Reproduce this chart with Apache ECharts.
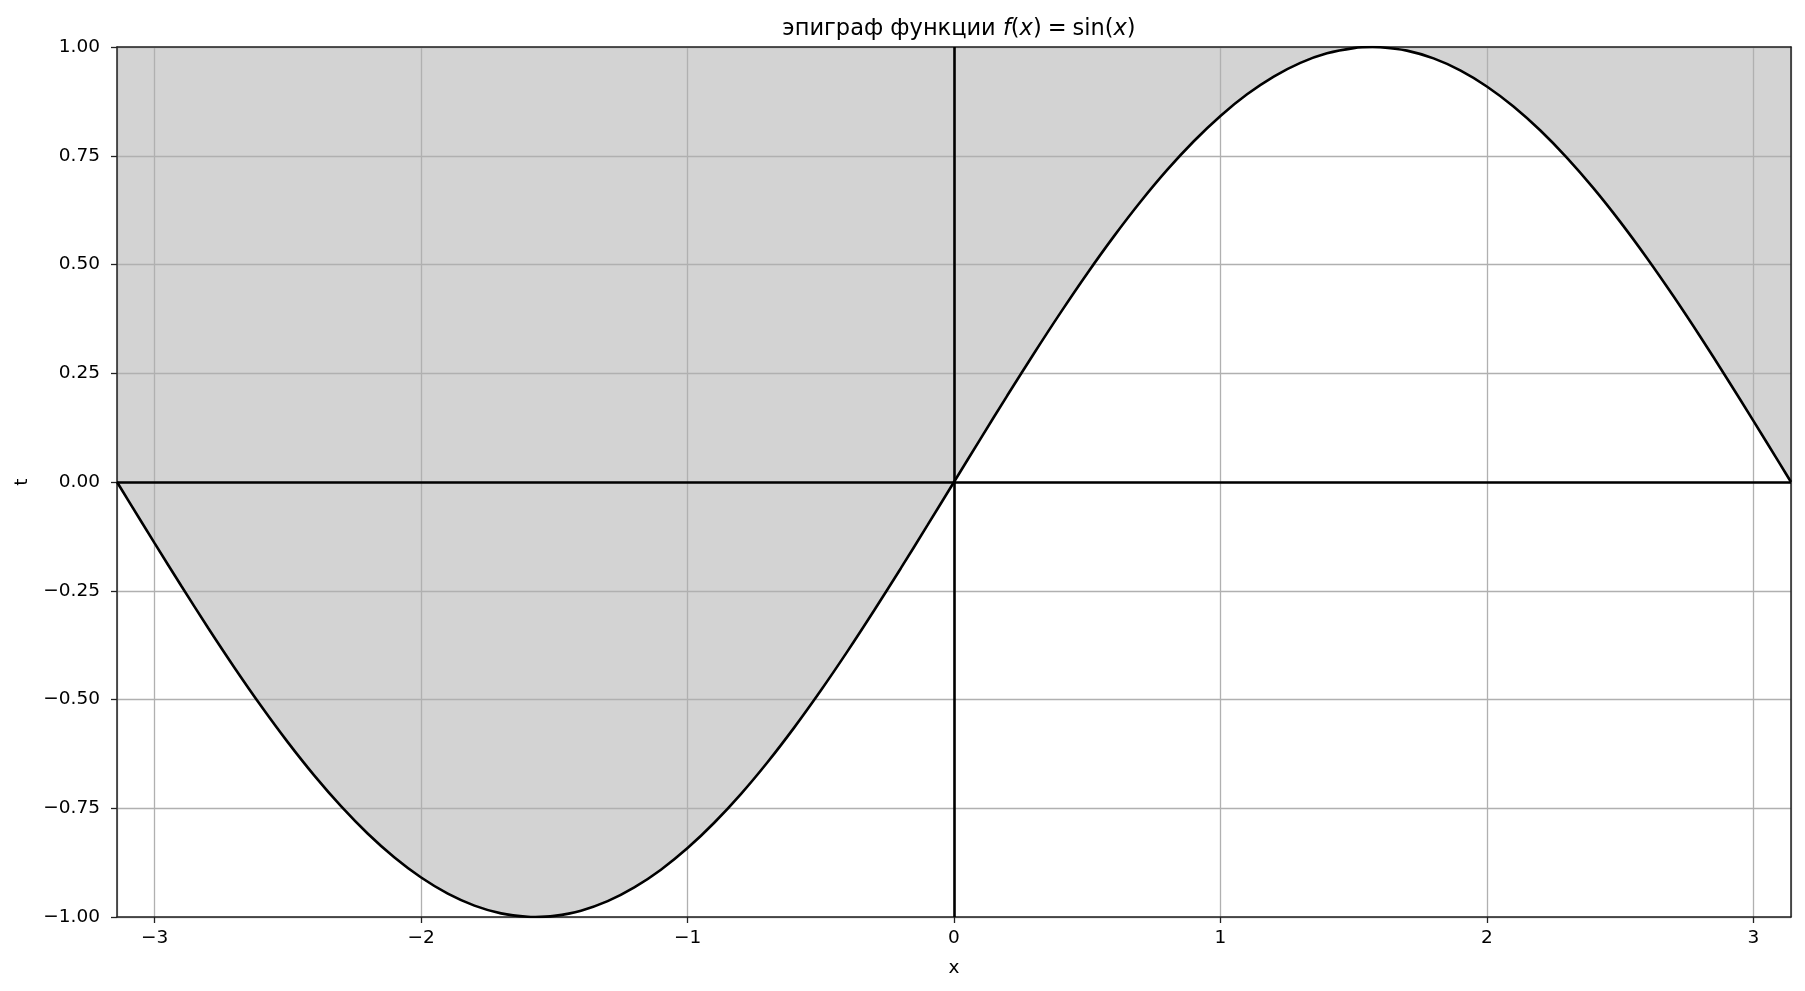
<!DOCTYPE html>
<html>
<head>
<meta charset="utf-8">
<title>эпиграф функции</title>
<script src="https://cdn.jsdelivr.net/npm/echarts@6/dist/echarts.min.js"></script>
<style>
  html, body { margin: 0; padding: 0; background: #fff; }
  #chart { width: 1805px; height: 991px; }
</style>
</head>
<body>
<div id="chart"></div>
<script>
// points of the curve
var xValues = [-3.1416, -3.1, -3.0, -2.9, -2.8, -2.7, -2.6, -2.5, -2.4, -2.3, -2.2, -2.1, -2.0,
    -1.9, -1.8, -1.7, -1.6, -1.5708, -1.5, -1.4, -1.3, -1.2, -1.1, -1.0, -0.9, -0.8, -0.7, -0.6,
    -0.5, -0.4, -0.3, -0.2, -0.1, 0.0, 0.1, 0.2, 0.3, 0.4, 0.5, 0.6, 0.7, 0.8, 0.9, 1.0, 1.1,
    1.2, 1.3, 1.4, 1.5, 1.5708, 1.6, 1.7, 1.8, 1.9, 2.0, 2.1, 2.2, 2.3, 2.4, 2.5, 2.6, 2.7, 2.8,
    2.9, 3.0, 3.1, 3.1416];
var tValues = [0.0, -0.0416, -0.1411, -0.2392, -0.335, -0.4274, -0.5155, -0.5985, -0.6755, -0.7457,
    -0.8085, -0.8632, -0.9093, -0.9463, -0.9738, -0.9917, -0.9996, -1.0, -0.9975, -0.9854, -0.9636,
    -0.932, -0.8912, -0.8415, -0.7833, -0.7174, -0.6442, -0.5646, -0.4794, -0.3894, -0.2955,
    -0.1987, -0.0998, 0.0, 0.0998, 0.1987, 0.2955, 0.3894, 0.4794, 0.5646, 0.6442, 0.7174,
    0.7833, 0.8415, 0.8912, 0.932, 0.9636, 0.9854, 0.9975, 1.0, 0.9996, 0.9917, 0.9738, 0.9463,
    0.9093, 0.8632, 0.8085, 0.7457, 0.6755, 0.5985, 0.5155, 0.4274, 0.335, 0.2392, 0.1411,
    0.0416, 0.0];
var xMin = -Math.PI, xMax = Math.PI;
var tMin = -1, tMax = 1, tStep = 0.25;

document.addEventListener("DOMContentLoaded", function () {
    var chart = echarts.init(document.getElementById("chart"));
    var font = "DejaVu Sans";

    var points = xValues.map(function (x, i) { return [x, tValues[i]]; });

    function minus(s) { return s.replace('-', '\u2212'); }

    var frame = { show: true, onZero: false, lineStyle: { color: '#222', width: 1.5 } };
    var txt = { fontFamily: font, fontSize: 22.5, color: '#000', fontWeight: 'normal' };

    var option = {
        animation: false,
        backgroundColor: '#fff',
        title: {
            text: '{n|эпиграф функции }{i|f}{n|(}{i|x}{n|)}{e|=}{n|sin(}{i|x}{n|)}',
            left: 954,
            textAlign: 'center',
            top: 13,
            textStyle: {
                fontWeight: 'normal',
                rich: {
                    n: txt,
                    i: Object.assign({}, txt, { fontStyle: 'italic' }),
                    e: Object.assign({}, txt, { padding: [0, 6, 0, 6] })
                }
            }
        },
        grid: { left: 117, right: 14, top: 47, bottom: 74, outerBoundsMode: 'none' },
        xAxis: [{
            type: 'value',
            min: xMin,
            max: xMax,
            splitNumber: 6,
            z: 2,
            name: 'x',
            nameLocation: 'middle',
            nameGap: 42,
            nameTextStyle: { fontFamily: font, fontSize: 18.5, color: '#000' },
            axisLine: frame,
            axisTick: { show: true, length: 6, lineStyle: { color: '#222', width: 1.3 } },
            axisLabel: {
                margin: 12,
                fontFamily: font, fontSize: 18.5, color: '#000',
                showMinLabel: false, showMaxLabel: false,
                formatter: function (v) {
                    return Math.abs(v - Math.round(v)) < 1e-9 ? minus(String(Math.round(v))) : '';
                }
            },
            splitLine: { show: true, lineStyle: { color: '#b0b0b0', width: 1.3 } }
        }, {
            type: 'value',
            position: 'top',
            min: xMin,
            max: xMax,
            z: 2,
            axisLine: frame,
            axisTick: { show: false },
            axisLabel: { show: false },
            splitLine: { show: false }
        }],
        yAxis: [{
            type: 'value',
            min: tMin,
            max: tMax,
            interval: tStep,
            z: 2,
            name: 't',
            nameLocation: 'middle',
            nameGap: 85,
            nameTextStyle: { fontFamily: font, fontSize: 18.5, color: '#000' },
            axisLine: frame,
            axisTick: { show: true, length: 6, lineStyle: { color: '#222', width: 1.3 } },
            axisLabel: {
                margin: 17,
                fontFamily: font, fontSize: 18.5, color: '#000',
                formatter: function (v) { return minus(v.toFixed(2)); }
            },
            splitLine: { show: true, lineStyle: { color: '#b0b0b0', width: 1.3 } }
        }, {
            type: 'value',
            position: 'right',
            min: tMin,
            max: tMax,
            interval: tStep,
            z: 2,
            axisLine: frame,
            axisTick: { show: false },
            axisLabel: { show: false },
            splitLine: { show: false }
        }],
        series: [{
            // epigraph: region above the curve
            type: 'line',
            z: 1,
            data: points,
            smooth: 0.3,
            showSymbol: false,
            silent: true,
            lineStyle: { width: 0, opacity: 0 },
            areaStyle: { origin: 'end', color: '#d3d3d3', opacity: 1 }
        }, {
            type: 'line',
            z: 3,
            data: points,
            smooth: 0.3,
            showSymbol: false,
            lineStyle: { color: '#000', width: 2.6 },
            markLine: {
                silent: true,
                symbol: 'none',
                label: { show: false },
                lineStyle: { color: '#000', width: 2.6, type: 'solid' },
                data: [{ xAxis: 0 }, { yAxis: 0 }]
            }
        }]
    };

    chart.setOption(option);
});
</script>
</body>
</html>
